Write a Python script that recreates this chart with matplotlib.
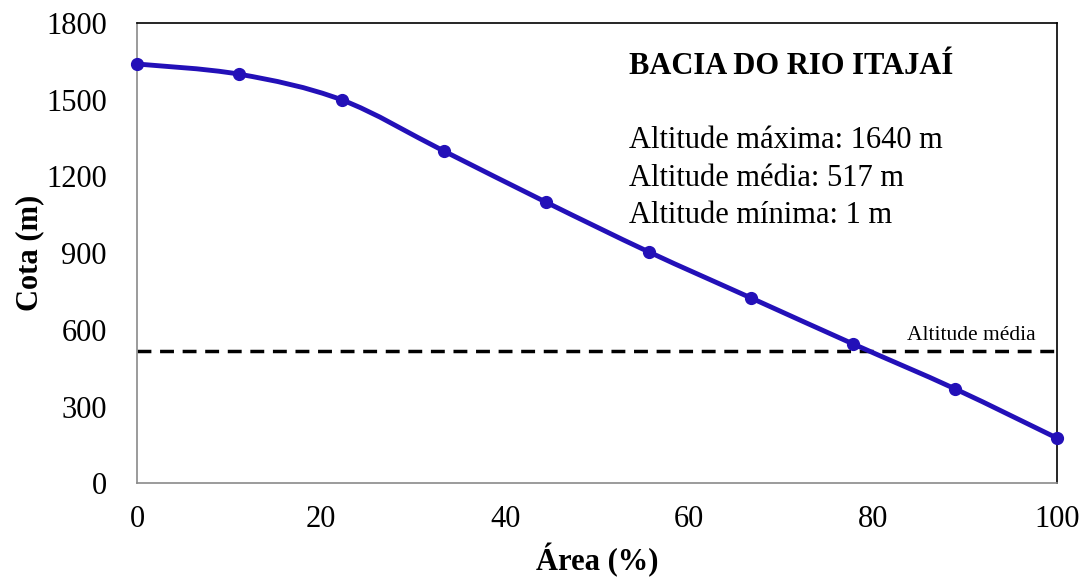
import matplotlib.pyplot as plt
from matplotlib.path import Path
from matplotlib.patches import PathPatch

# Curva hipsométrica - Bacia do Rio Itajaí
area = [0.0, 11.1, 22.2, 33.3, 44.4, 55.6, 66.7, 77.8, 88.9, 100.0]
cota = [1640, 1600, 1500, 1300, 1100, 905, 725, 545, 369, 176]
altitude_media = 517

xticks = [0, 20, 40, 60, 80, 100]
yticks = [0, 300, 600, 900, 1200, 1500, 1800]

info_lines = ["Altitude máxima: 1640 m",
              "Altitude média: 517 m",
              "Altitude mínima: 1 m"]

line_color = '#2310b8'

plt.rcParams['font.family'] = ['Liberation Serif', 'DejaVu Serif']

fig = plt.figure(figsize=(10.81, 5.78), dpi=100)
ax = fig.add_axes([0.127, 0.164, 0.851, 0.796])


def smooth_path(xs, ys):
    # Excel-like smoothed line (Catmull-Rom as cubic Bezier)
    pts = list(zip(xs, ys))
    verts = [pts[0]]
    codes = [Path.MOVETO]
    n = len(pts)
    for i in range(n - 1):
        p0 = pts[i - 1] if i > 0 else pts[i]
        p1 = pts[i]
        p2 = pts[i + 1]
        p3 = pts[i + 2] if i + 2 < n else pts[i + 1]
        c1 = (p1[0] + (p2[0] - p0[0]) / 6, p1[1] + (p2[1] - p0[1]) / 6)
        c2 = (p2[0] - (p3[0] - p1[0]) / 6, p2[1] - (p3[1] - p1[1]) / 6)
        verts += [c1, c2, p2]
        codes += [Path.CURVE4] * 3
    return Path(verts, codes)


ax.add_patch(PathPatch(smooth_path(area, cota), facecolor='none',
                       edgecolor=line_color, lw=3.5, zorder=3))
ax.plot(area, cota, linestyle='none', marker='o', markersize=8.5,
        color=line_color, zorder=4, clip_on=False)

ax.axhline(altitude_media, color='black', linestyle=(0, (4, 2.5)), lw=2.5, zorder=2)
ax.text(97.6, altitude_media + 22, "Altitude média", ha='right', va='bottom',
        fontsize=15.5)

ax.text(0.534, 0.905, "BACIA DO RIO ITAJAÍ", transform=ax.transAxes,
        fontsize=22, fontweight='bold', va='center')
for i, s in enumerate(info_lines):
    ax.text(0.534, 0.745 - i * 0.082, s, transform=ax.transAxes,
            fontsize=22, va='center')

ax.set_xlim(0, 100)
ax.set_ylim(0, 1800)
ax.set_xticks(xticks)
ax.set_yticks(yticks)
ax.tick_params(length=0, labelsize=22)
ax.tick_params(axis='y', pad=22)
ax.tick_params(axis='x', pad=16)

ax.set_xlabel("Área (%)", fontsize=22, fontweight='bold', labelpad=6)
ax.set_ylabel("Cota (m)", fontsize=22, fontweight='bold', labelpad=1)

for side in ['left', 'bottom']:
    ax.spines[side].set_color('#8a8a8a')
for side in ['top', 'right']:
    ax.spines[side].set_color('black')
for sp in ax.spines.values():
    sp.set_linewidth(1.2)

fig.savefig('out.png', dpi=100)
